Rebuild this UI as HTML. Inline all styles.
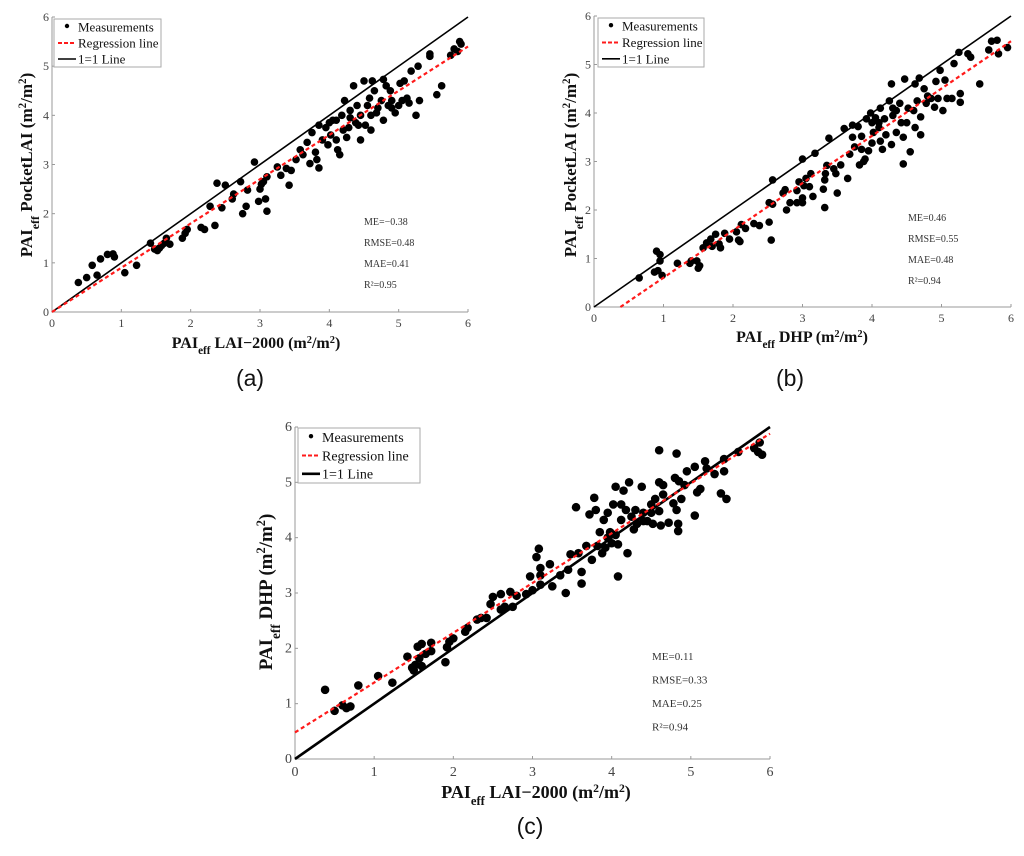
<!DOCTYPE html>
<html><head><meta charset="utf-8"><style>
html,body{margin:0;padding:0;background:#fff;}
svg{display:block;font-family:"Liberation Serif",serif;}
</style></head><body>
<svg id="fig" width="1024" height="856" viewBox="0 0 1024 856"></svg>
<script>
const aX=[0.38,0.5,0.58,0.65,0.7,0.8,0.88,0.9,1.05,1.22,1.42,1.48,1.52,1.55,1.58,1.62,1.65,1.7,1.88,1.92,1.95,2.15,2.2,2.28,2.35,2.38,2.45,2.5,2.6,2.62,2.72,2.75,2.8,2.82,2.92,2.98,3.0,3.02,3.05,3.08,3.1,3.1,3.25,3.3,3.38,3.42,3.45,3.52,3.58,3.62,3.68,3.72,3.75,3.8,3.82,3.85,3.85,3.9,3.95,4.0,4.02,4.05,4.1,4.12,4.15,4.18,4.2,4.22,4.25,4.28,4.3,4.35,4.38,4.4,4.42,4.45,4.5,4.52,4.55,4.58,4.6,4.6,4.62,4.65,4.7,4.75,4.78,4.78,4.82,4.85,4.88,4.9,4.95,5.0,5.02,5.05,5.08,5.12,5.15,5.18,5.25,5.28,5.3,5.45,5.45,5.55,5.62,5.75,5.8,5.85,5.88,5.9,4.1,4.3,3.98,4.68,4.9,4.45];
const aY=[0.6,0.7,0.95,0.75,1.08,1.17,1.18,1.12,0.8,0.95,1.4,1.28,1.25,1.3,1.35,1.4,1.5,1.38,1.5,1.6,1.68,1.72,1.68,2.15,1.76,2.62,2.12,2.58,2.3,2.4,2.65,2.0,2.15,2.48,3.05,2.25,2.5,2.6,2.65,2.3,2.05,2.75,2.95,2.78,2.92,2.58,2.88,3.1,3.3,3.2,3.45,3.02,3.65,3.25,3.1,2.93,3.8,3.5,3.75,3.85,3.6,3.9,3.5,3.3,3.2,4.0,3.7,4.3,3.55,3.75,4.1,4.6,3.85,4.2,3.8,3.5,4.7,3.8,4.2,4.35,4.0,3.7,4.7,4.5,4.15,4.3,4.73,3.9,4.6,4.2,4.5,4.3,4.05,4.2,4.65,4.3,4.7,4.35,4.25,4.9,4.0,5.0,4.3,5.2,5.25,4.42,4.6,5.22,5.35,5.3,5.5,5.45,3.9,3.95,3.4,4.05,4.15,4.0];
const bX=[0.65,0.87,0.9,0.92,0.95,0.95,0.98,1.2,1.38,1.4,1.48,1.5,1.52,1.57,1.62,1.68,1.7,1.75,1.8,1.82,1.88,1.95,2.05,2.08,2.1,2.12,2.18,2.3,2.38,2.52,2.52,2.55,2.57,2.57,2.72,2.75,2.77,2.82,2.92,2.92,2.95,3.0,3.0,3.0,3.02,3.05,3.1,3.12,3.15,3.18,3.3,3.32,3.32,3.33,3.35,3.38,3.45,3.48,3.5,3.55,3.6,3.65,3.68,3.72,3.72,3.75,3.8,3.82,3.85,3.85,3.88,3.9,3.92,3.95,3.98,4.0,4.0,4.02,4.05,4.1,4.12,4.12,4.15,4.18,4.2,4.25,4.28,4.28,4.3,4.35,4.35,4.4,4.42,4.45,4.45,4.47,4.52,4.55,4.6,4.62,4.62,4.65,4.68,4.7,4.7,4.75,4.78,4.8,4.85,4.9,4.92,4.95,4.98,5.02,5.05,5.08,5.15,5.18,5.25,5.27,5.27,5.38,5.42,5.55,5.68,5.72,5.8,5.82,5.95,4.1,4.3,4.5];
const bY=[0.6,0.72,1.15,0.75,1.08,0.95,0.65,0.9,0.9,0.95,0.95,0.8,0.85,1.22,1.32,1.4,1.25,1.5,1.3,1.22,1.52,1.4,1.55,1.38,1.35,1.7,1.62,1.72,1.68,2.15,1.75,1.38,2.12,2.62,2.35,2.42,2.0,2.15,2.4,2.15,2.58,3.05,2.25,2.15,2.5,2.65,2.48,2.75,2.28,3.17,2.43,2.05,2.62,2.75,2.92,3.48,2.85,2.75,2.35,2.93,3.68,2.65,3.15,3.5,3.75,3.3,3.72,2.93,3.25,3.52,3.0,3.05,3.88,3.22,4.0,3.38,3.8,3.6,3.9,3.8,4.1,3.42,3.25,3.88,3.55,4.25,3.35,4.6,3.95,4.05,3.6,4.2,3.8,2.95,3.5,4.7,4.1,3.2,4.05,4.6,3.7,4.25,4.72,3.92,3.55,4.5,4.2,4.35,4.3,4.12,4.65,4.3,4.88,4.05,4.68,4.3,4.3,5.02,5.25,4.4,4.22,5.22,5.15,4.6,5.3,5.48,5.5,5.22,5.35,3.7,4.1,3.8];
const cX=[0.38,0.5,0.6,0.65,0.7,0.8,1.05,1.23,1.42,1.48,1.5,1.52,1.55,1.57,1.6,1.6,1.65,1.72,1.72,1.9,1.92,1.95,2.0,2.15,2.18,2.3,2.35,2.42,2.47,2.5,2.6,2.6,2.65,2.72,2.75,2.8,2.92,2.97,3.0,3.05,3.08,3.1,3.1,3.1,3.22,3.25,3.35,3.42,3.45,3.48,3.55,3.58,3.62,3.62,3.68,3.72,3.75,3.78,3.8,3.82,3.85,3.88,3.9,3.92,3.95,3.98,4.0,4.02,4.05,4.05,4.08,4.08,4.12,4.12,4.15,4.18,4.2,4.22,4.25,4.28,4.3,4.32,4.38,4.4,4.45,4.5,4.52,4.55,4.6,4.6,4.6,4.62,4.65,4.65,4.72,4.78,4.8,4.82,4.82,4.84,4.84,4.85,4.88,4.92,4.95,5.05,5.05,5.08,5.12,5.18,5.2,5.3,5.38,5.42,5.45,5.42,5.6,5.8,5.85,5.87,5.9,4.4,4.5,3.95];
const cY=[1.25,0.87,0.97,0.92,0.95,1.33,1.5,1.38,1.85,1.65,1.6,1.7,2.03,1.82,2.08,1.68,1.9,2.1,1.95,1.75,2.02,2.12,2.18,2.3,2.37,2.52,2.55,2.55,2.8,2.93,2.98,2.7,2.75,3.02,2.75,2.95,2.98,3.3,3.05,3.65,3.8,3.45,3.15,3.32,3.52,3.12,3.32,3.0,3.42,3.7,4.55,3.72,3.38,3.17,3.85,4.42,3.6,4.72,4.5,3.85,4.1,3.72,4.32,3.82,4.45,4.1,3.9,4.6,4.92,4.05,3.3,3.88,4.6,4.32,4.85,4.5,3.72,5.0,4.38,4.15,4.5,4.25,4.92,4.45,4.3,4.6,4.25,4.7,5.58,5.0,4.48,4.22,4.78,4.95,4.27,4.62,5.08,5.52,4.5,4.25,4.12,5.02,4.7,4.95,5.2,5.28,4.4,4.82,4.88,5.38,5.25,5.15,4.8,5.2,4.7,5.42,5.55,5.62,5.55,5.72,5.5,4.3,4.45,4.0];
const ticks=[0,1,2,3,4,5,6];
const regA=[[0,0],[6,5.4]];
const regB=[[0.38,0],[6,5.48]];
const regC=[[0,0.48],[6,5.88]];
const statsA=["ME=−0.38","RMSE=0.48","MAE=0.41","R²=0.95"];
const statsB=["ME=0.46","RMSE=0.55","MAE=0.48","R²=0.94"];
const statsC=["ME=0.11","RMSE=0.33","MAE=0.25","R²=0.94"];

const NS="http://www.w3.org/2000/svg";
const svg=document.getElementById('fig');
function mk(tag,attrs,parent){const e=document.createElementNS(NS,tag);for(const k in attrs)e.setAttribute(k,attrs[k]);(parent||svg).appendChild(e);return e;}

function panel(id,P,xs,ys,reg,stats,xt,yt,cap){
  const g=mk('g',{});
  
  
  const sx=v=>P.x0+(P.x6-P.x0)*v/6, sy=v=>P.y0-(P.y0-P.y6)*v/6;
  const ax=mk('path',{d:`M${P.x0},${P.y6}V${P.y0}H${P.x6}`,fill:'none',stroke:'#9a9a9a','stroke-width':1},g);
  
  
  ticks.forEach(t=>{
    const tx=mk('text',{x:sx(t),y:P.y0+P.tf+3,'text-anchor':'middle','font-size':P.tf,fill:'#444'},g);tx.textContent=t;
    
    
    const ty=mk('text',{x:P.x0-3,y:sy(t)+4,'text-anchor':'end','font-size':P.tf,fill:'#444'},g);ty.textContent=t;
    
    
    mk('line',{x1:sx(t),x2:sx(t),y1:P.y0,y2:P.y0-3,stroke:'#9a9a9a'},g);
    mk('line',{x1:P.x0,x2:P.x0+3,y1:sy(t),y2:sy(t),stroke:'#9a9a9a'},g);
  });
  const one=mk('line',{x1:sx(0),y1:sy(0),x2:sx(6),y2:sy(6),stroke:'#000','stroke-width':P.lw},g);
  
  
  xs.forEach((x,i)=>{const c=mk('circle',{cx:sx(x),cy:sy(ys[i]),r:P.r,fill:'#000'},g);
    
    });
  const rl=mk('line',{x1:sx(reg[0][0]),y1:sy(reg[0][1]),x2:sx(reg[1][0]),y2:sy(reg[1][1]),stroke:'#ff1a1a','stroke-width':2.2,'stroke-dasharray':'4,3'},g);
  
  
  const L=P.leg;
  const lb=mk('rect',{x:L.x,y:L.y,width:L.w,height:L.h,fill:'#fff',stroke:'#aaa'},g);
  
  
  const rows=['Measurements','Regression line','1=1 Line'];
  rows.forEach((s,i)=>{
    const yy=L.y+L.h*(i+0.5)/3;
    if(i===0)mk('circle',{cx:L.x+13,cy:yy-1,r:2.2,fill:'#000'},g);
    if(i===1)mk('line',{x1:L.x+4,x2:L.x+22,y1:yy,y2:yy,stroke:'#ff1a1a','stroke-width':2,'stroke-dasharray':'4,2'},g);
    if(i===2)mk('line',{x1:L.x+4,x2:L.x+22,y1:yy,y2:yy,stroke:'#000','stroke-width':P.lw},g);
    const t=mk('text',{x:L.x+24,y:yy+L.fs*0.35,'font-size':L.fs,fill:'#111'},g);t.textContent=s;
    
    
  });
  stats.forEach((s,i)=>{const t=mk('text',{x:P.st.x,y:P.st.y+i*P.st.dy,'font-size':P.st.fs,fill:'#333'},g);t.textContent=s;
    
    });
  const xtl=mk('text',{x:P.xt.x,y:P.xt.y,'text-anchor':'middle','font-size':P.xt.fs,'font-weight':'bold',fill:'#111'},g);
  xtl.innerHTML=xt;
  
  
  const ytl=mk('text',{x:0,y:0,'text-anchor':'middle','font-size':P.yt.fs,'font-weight':'bold',fill:'#111',transform:`translate(${P.yt.x},${P.yt.y}) rotate(-90)`},g);
  ytl.innerHTML=yt;
  
  
  const cp=mk('text',{x:P.cap.x,y:P.cap.y,'text-anchor':'middle','font-size':23,fill:'#111','font-family':'"Liberation Sans",sans-serif'},g);
  cp.textContent=cap;
  
  
}
const sub='<tspan baseline-shift="sub" font-size="70%">eff</tspan>';
const sq='<tspan baseline-shift="super" font-size="65%">2</tspan>';
panel('a',{x0:52,x6:468,y0:312,y6:17,r:3.8,lw:1.6,tf:12,
  leg:{x:54,y:19,w:107,h:48,fs:13},st:{x:364,y:225,dy:21,fs:10},
  xt:{x:256,y:348,fs:16},yt:{x:32,y:165,fs:17},cap:{x:250,y:386}},
  aX,aY,regA,statsA,'PAI'+sub+' LAI−2000 (m'+sq+'/m'+sq+')','PAI'+sub+' PocketLAI (m'+sq+'/m'+sq+')','(a)');
panel('b',{x0:594,x6:1011,y0:307,y6:16,r:3.8,lw:1.6,tf:12,
  leg:{x:598,y:18,w:106,h:49,fs:13},st:{x:908,y:221,dy:21,fs:10},
  xt:{x:802,y:342,fs:16},yt:{x:576,y:165,fs:17},cap:{x:790,y:386}},
  bX,bY,regB,statsB,'PAI'+sub+' DHP (m'+sq+'/m'+sq+')','PAI'+sub+' PocketLAI (m'+sq+'/m'+sq+')','(b)');
panel('c',{x0:295,x6:770,y0:759,y6:427,r:4.3,lw:2.6,tf:14,
  leg:{x:298,y:428,w:122,h:55,fs:14},st:{x:652,y:660,dy:23.5,fs:11},
  xt:{x:536,y:798,fs:18},yt:{x:272,y:592,fs:19},cap:{x:530,y:834}},
  cX,cY,regC,statsC,'PAI'+sub+' LAI−2000  (m'+sq+'/m'+sq+')','PAI'+sub+' DHP (m'+sq+'/m'+sq+')','(c)');
</script>
</body></html>
